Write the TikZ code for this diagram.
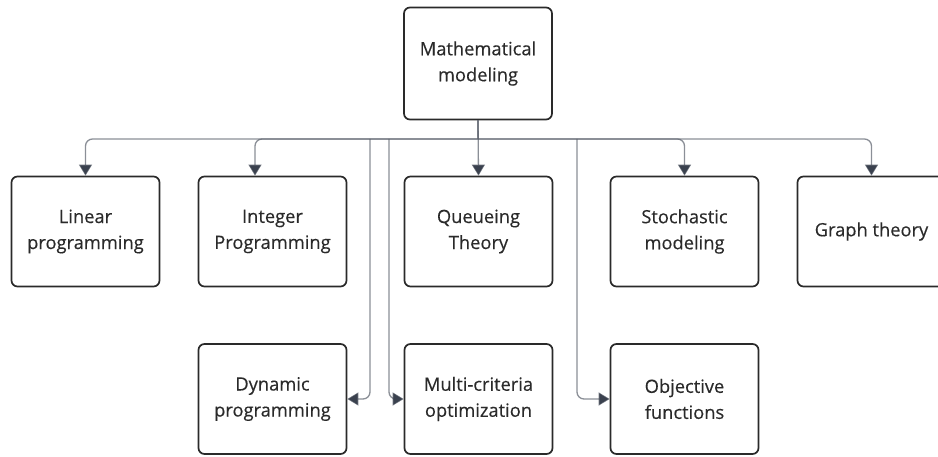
\documentclass[tikz,border=0pt]{standalone}
\usepackage{fontspec}
\setmainfont{Open Sans}
\newfontfamily\boxfont{Open Sans}[FakeBold=0.35]
\usetikzlibrary{arrows.meta}
\definecolor{boxline}{HTML}{2A2A2A}
\definecolor{wire}{HTML}{5A606B}
\definecolor{tipcol}{HTML}{3A414E}
\tikzset{
  topic/.style={draw=boxline, line width=1.7pt, rounded corners=6pt,
    minimum width=148pt, minimum height=110pt, align=center,
    text=boxline, font=\boxfont\fontsize{18.3}{26}\selectfont},
  wireline/.style={draw=wire, draw opacity=0.7, line width=1.3pt},
  feed/.style={wireline, rounded corners=7pt,
    -{Triangle[width=13pt,length=11pt,color=tipcol]}}
}

\begin{document}
\begin{tikzpicture}[x=1pt,y=-1pt]
    \useasboundingbox (0,0) rectangle (938,457);
    \clip (0,0) rectangle (938,457);

    % root and first row
    \node[topic, minimum height=112pt] (math) at (478,63.5) {Mathematical\\modeling};
    \node[topic] (lin) at (85.5,231.5) {Linear\\programming};
    \node[topic] (int) at (272.5,231.5) {Integer\\Programming};
    \node[topic] (que) at (478.5,231.5) {Queueing\\Theory};
    \node[topic] (sto) at (684.5,231.5) {Stochastic\\modeling};
    \node[topic] (gra) at (871.5,231.5) {Graph theory};

    % second row
    \node[topic] (dyn) at (272.5,399) {Dynamic\\programming};
    \node[topic] (mul) at (478.5,399) {Multi-criteria\\optimization};
    \node[topic] (obj) at (684.5,399) {Objective\\functions};

    \coordinate (bus)   at (478,139);
    \coordinate (dropA) at (370,139);
    \coordinate (dropB) at (389,139);
    \coordinate (dropC) at (577,139);

    % stem and arrows down to the first row
    \draw[wireline] (math.south) -- (bus);
    \draw[feed] (bus) -| (lin.north);
    \draw[feed] (bus) -| ([xshift=-17.5pt]int.north);
    \draw[feed] (math.south) -- (que.north);
    \draw[feed] (bus) -| (sto.north);
    \draw[feed] (bus) -| (gra.north);

    % drops into the second row
    \draw[feed] (dropA) |- (dyn.east);
    \draw[feed] (dropB) |- (mul.west);
    \draw[feed] (dropC) |- (obj.west);
\end{tikzpicture}
\end{document}
